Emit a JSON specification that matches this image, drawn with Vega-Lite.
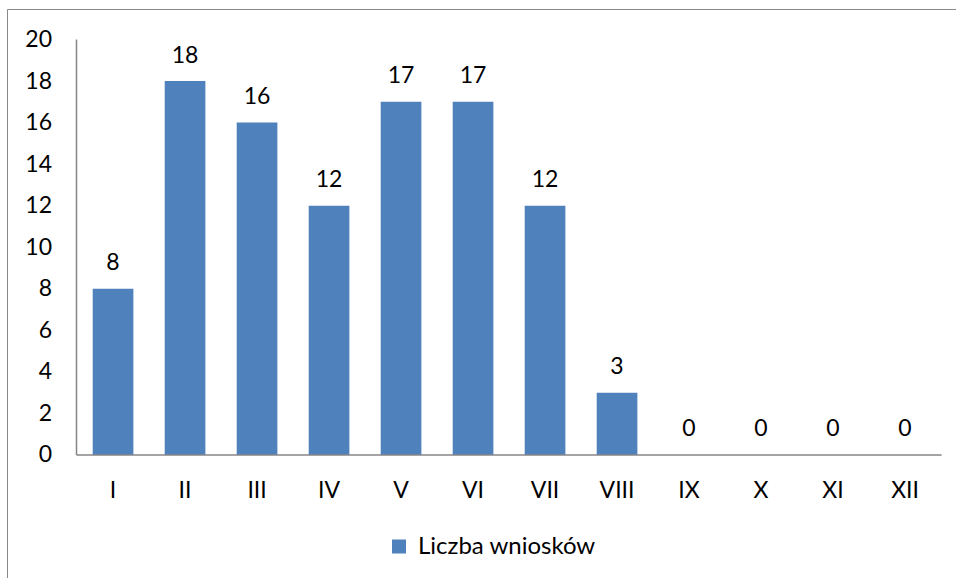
{
  "$schema": "https://vega.github.io/schema/vega-lite/v6.json",
  "width": 965,
  "height": 585,
  "autosize": {"type": "none"},
  "padding": {"left": 7, "top": 9, "right": -16, "bottom": -16},
  "background": "white",
  "config": {
    "view": {"stroke": "#898989", "strokeWidth": 1},
    "font": "Lato"
  },
  "data": {
    "values": [
      {"miesiac": "I", "wnioski": 8, "seria": "Liczba wniosków"},
      {"miesiac": "II", "wnioski": 18, "seria": "Liczba wniosków"},
      {"miesiac": "III", "wnioski": 16, "seria": "Liczba wniosków"},
      {"miesiac": "IV", "wnioski": 12, "seria": "Liczba wniosków"},
      {"miesiac": "V", "wnioski": 17, "seria": "Liczba wniosków"},
      {"miesiac": "VI", "wnioski": 17, "seria": "Liczba wniosków"},
      {"miesiac": "VII", "wnioski": 12, "seria": "Liczba wniosków"},
      {"miesiac": "VIII", "wnioski": 3, "seria": "Liczba wniosków"},
      {"miesiac": "IX", "wnioski": 0, "seria": "Liczba wniosków"},
      {"miesiac": "X", "wnioski": 0, "seria": "Liczba wniosków"},
      {"miesiac": "XI", "wnioski": 0, "seria": "Liczba wniosków"},
      {"miesiac": "XII", "wnioski": 0, "seria": "Liczba wniosków"}
    ]
  },
  "layer": [
    {
      "mark": {"type": "bar"},
      "encoding": {
        "x": {
          "field": "miesiac",
          "type": "ordinal",
          "scale": {
            "domain": ["I", "II", "III", "IV", "V", "VI", "VII", "VIII", "IX", "X", "XI", "XII"],
            "paddingInner": 0.435,
            "paddingOuter": 0.9189,
            "align": 0.6477
          },
          "axis": {
            "title": null,
            "orient": "bottom",
            "offset": -139,
            "domain": false,
            "ticks": false,
            "labelAngle": 0,
            "labelFont": "Lato",
            "labelFontSize": 23,
            "labelColor": "#000000",
            "labelBaseline": "alphabetic",
            "labelPadding": 42
          }
        },
        "y": {
          "field": "wnioski",
          "type": "quantitative",
          "scale": {"domain": [-6.691, 21.468], "nice": false, "zero": false},
          "axis": {
            "title": null,
            "offset": -69.5,
            "domain": false,
            "ticks": false,
            "grid": false,
            "values": [0, 2, 4, 6, 8, 10, 12, 14, 16, 18, 20],
            "labelFont": "Lato",
            "labelFontSize": 23,
            "labelColor": "#000000",
            "labelPadding": 25
          }
        },
        "y2": {"datum": 0},
        "color": {
          "field": "seria",
          "type": "nominal",
          "scale": {"range": ["#4F81BD"]},
          "legend": {
            "title": null,
            "orient": "none",
            "legendX": 380,
            "legendY": 525.5,
            "padding": 0,
            "symbolType": "square",
            "symbolSize": 196,
            "symbolStrokeWidth": 0,
            "labelFont": "Lato",
            "labelFontSize": 24,
            "labelColor": "#000000",
            "labelOffset": 7,
            "labelLimit": 500
          }
        }
      }
    },
    {
      "mark": {"type": "text", "baseline": "alphabetic", "dy": -18.5, "fontSize": 23, "font": "Lato", "color": "#000000"},
      "encoding": {
        "x": {"field": "miesiac", "type": "ordinal"},
        "y": {"field": "wnioski", "type": "quantitative"},
        "text": {"field": "wnioski", "type": "quantitative"}
      }
    },
    {
      "data": {"values": [{"od": "I", "do": "XII"}]},
      "mark": {"type": "rule", "color": "#868686", "strokeWidth": 1.5, "xOffset": -16.2},
      "encoding": {
        "x": {"field": "od", "type": "ordinal", "bandPosition": 0},
        "y": {"datum": 0},
        "y2": {"datum": 20}
      }
    },
    {
      "data": {"values": [{"od": "I", "do": "XII"}]},
      "mark": {"type": "rule", "color": "#868686", "strokeWidth": 1.5, "xOffset": -16.2, "x2Offset": 16.2},
      "encoding": {
        "x": {"field": "od", "type": "ordinal", "bandPosition": 0},
        "x2": {"field": "do", "bandPosition": 1},
        "y": {"datum": 0}
      }
    }
  ]
}
